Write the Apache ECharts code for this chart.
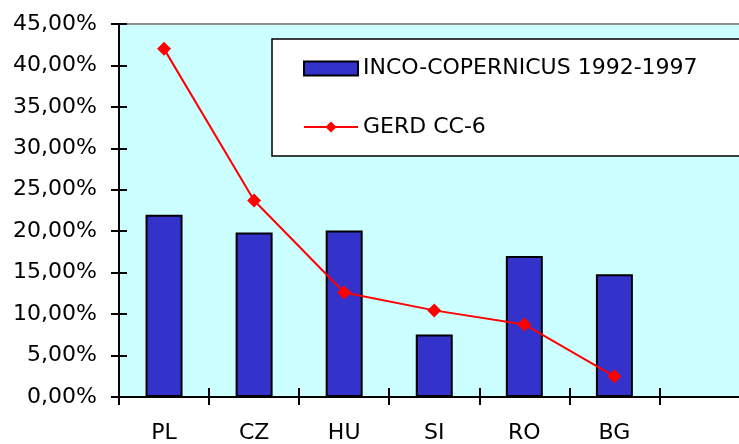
<!DOCTYPE html>
<html>
<head>
<meta charset="utf-8">
<script src="https://cdn.jsdelivr.net/npm/echarts@6/dist/echarts.min.js"></script>
<style>
html,body{margin:0;padding:0;background:#fff;}
#c{width:739px;height:444px;}
</style>
</head>
<body>
<div id="c"></div>
<script>
const categories = ['PL', 'CZ', 'HU', 'SI', 'RO', 'BG', ''];
const incoValues = [22.0, 19.85, 20.1, 7.55, 17.0, 14.8];
const gerdValues = [42.0, 23.7, 12.6, 10.45, 8.75, 2.5];
const seriesNames = ['INCO-COPERNICUS 1992-1997', 'GERD CC-6'];
const yMin = 0, yMax = 45, yStep = 5;

const FONT = 'DejaVu Sans';
const chart = echarts.init(document.getElementById('c'), null, {renderer: 'canvas'});
const fmt = v => v.toFixed(2).replace('.', ',') + '%';

chart.setOption({
  animation: false,
  backgroundColor: '#ffffff',
  textStyle: {fontFamily: FONT},
  grid: {
    left: 119, top: 24, right: -10.5, bottom: 47,
    outerBoundsMode: 'none', containLabel: false,
    show: true, backgroundColor: '#CCFFFF', borderWidth: 0
  },
  graphic: [{
    type: 'rect', z: 3,
    shape: {x: 272, y: 39, width: 480, height: 117},
    style: {fill: '#ffffff', stroke: '#000000', lineWidth: 1.5}
  }],
  legend: {
    z: 5,
    orient: 'vertical',
    left: 303, top: 57.5,
    itemWidth: 54, itemHeight: 14,
    itemGap: 36.5, itemTextGap: 8,
    padding: 0,
    textStyle: {fontFamily: FONT, fontSize: 22, color: '#000', lineHeight: 22},
    data: [{name: seriesNames[0], icon: 'rect'}, {name: seriesNames[1]}]
  },
  xAxis: [{
    type: 'category', data: categories, position: 'bottom',
    axisLine: {lineStyle: {color: '#000', width: 2}},
    axisTick: {show: true, inside: false, length: 8, lineStyle: {color: '#000', width: 2}},
    axisLabel: {fontFamily: FONT, fontSize: 22, color: '#000', margin: 25, lineHeight: 22},
    splitLine: {show: false}
  }, {
    type: 'category', data: categories, position: 'bottom',
    axisLine: {show: false},
    axisTick: {show: true, inside: true, length: 9, lineStyle: {color: '#000', width: 2}},
    axisLabel: {show: false},
    splitLine: {show: false}
  }, {
    type: 'category', data: categories, position: 'top',
    axisLine: {lineStyle: {color: '#909090', width: 2}},
    axisTick: {show: false},
    axisLabel: {show: false},
    splitLine: {show: false}
  }],
  yAxis: [{
    type: 'value', min: yMin, max: yMax, interval: yStep, position: 'left',
    axisLine: {show: true, lineStyle: {color: '#000', width: 2}},
    axisTick: {show: true, inside: false, length: 8, lineStyle: {color: '#000', width: 2}},
    axisLabel: {fontFamily: FONT, fontSize: 22, color: '#000', margin: 22, formatter: fmt},
    splitLine: {show: false}
  }, {
    type: 'value', min: yMin, max: yMax, interval: yStep, position: 'left',
    axisLine: {show: false},
    axisTick: {show: true, inside: true, length: 8, lineStyle: {color: '#000', width: 2}},
    axisLabel: {show: false},
    splitLine: {show: false}
  }],
  series: [{
    name: seriesNames[0], type: 'bar', xAxisIndex: 0, yAxisIndex: 0,
    data: incoValues, barWidth: 37,
    itemStyle: {color: '#3333CC', borderColor: '#000', borderWidth: 2}
  }, {
    name: seriesNames[1], type: 'line', xAxisIndex: 0, yAxisIndex: 0,
    data: gerdValues, symbol: 'diamond', symbolSize: 14, z: 6,
    lineStyle: {color: '#FF0000', width: 2},
    itemStyle: {color: '#FF0000'}
  }]
});
</script>
</body>
</html>
